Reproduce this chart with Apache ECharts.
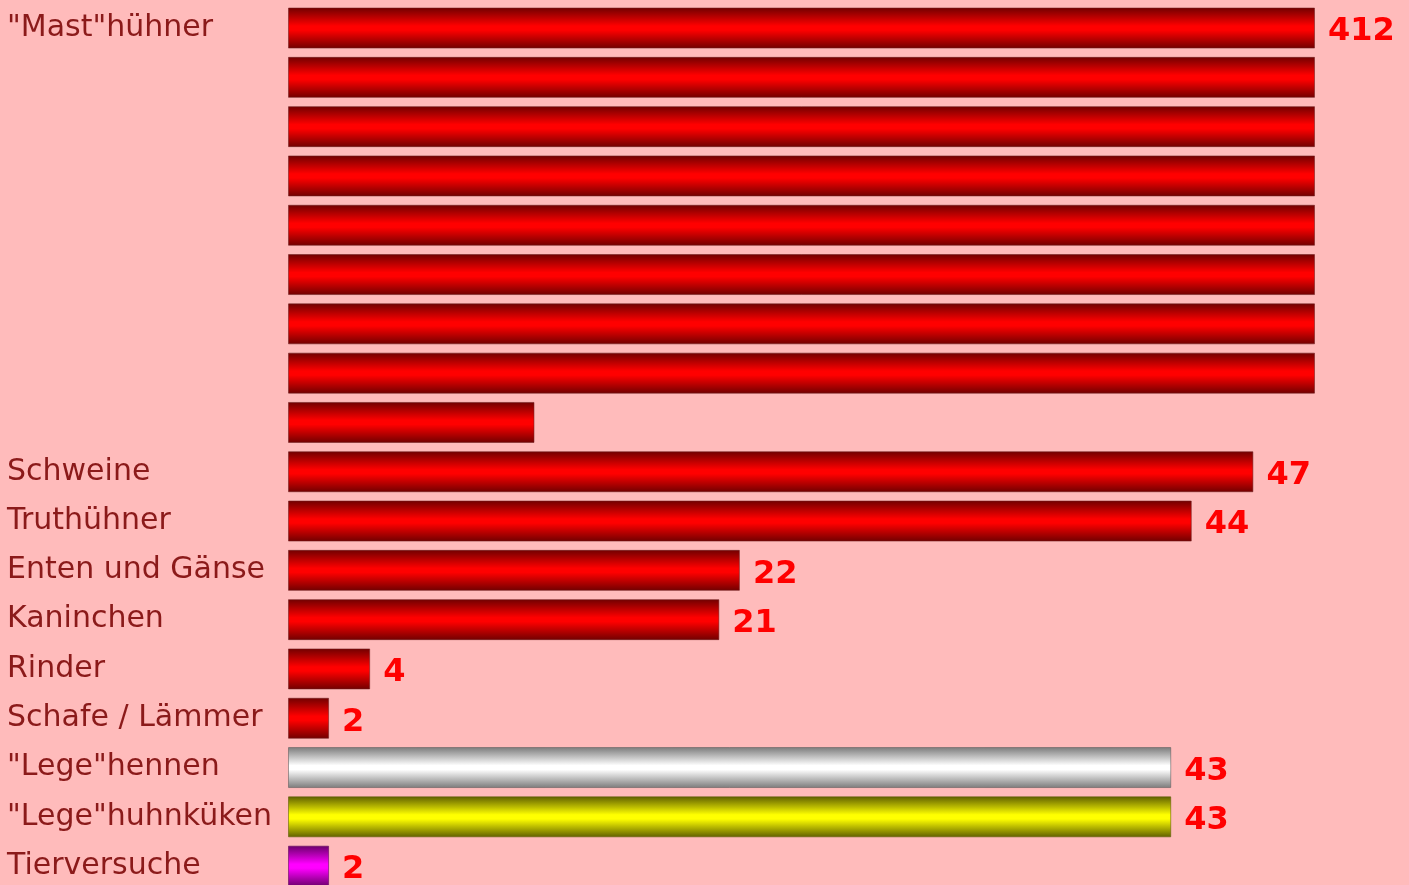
<!DOCTYPE html>
<html>
<head>
<meta charset="utf-8">
<script src="https://cdn.jsdelivr.net/npm/echarts@6/dist/echarts.min.js"></script>
<style>
html,body{margin:0;padding:0;background:#FFBBBB;overflow:hidden;}
#c{width:1409px;height:885px;}
</style>
</head>
<body>
<div id="c"></div>
<script>
// ---- data ----
const categories = ['"Mast"hühner', 'Schweine', 'Truthühner', 'Enten und Gänse', 'Kaninchen', 'Rinder', 'Schafe / Lämmer', '"Lege"hennen', '"Lege"huhnküken', 'Tierversuche'];
const values = [412, 47, 44, 22, 21, 4, 2, 43, 43, 2];
const colorKeys = ['red', 'red', 'red', 'red', 'red', 'red', 'red', 'white', 'yellow', 'magenta'];
const rowCapacity = 50; // one bar row holds 50 units; larger values wrap onto further rows

// ---- styles ----
const palettes = {
  red:     { edge: '#700000', mid: '#ff0000', border: 'rgba(110,30,30,0.55)' },
  white:   { edge: '#7a7a7a', mid: '#ffffff', border: 'rgba(90,90,90,0.55)' },
  yellow:  { edge: '#5e5e00', mid: '#ffff00', border: 'rgba(90,90,0,0.55)' },
  magenta: { edge: '#6a006a', mid: '#ff00ff', border: 'rgba(90,0,90,0.55)' }
};
function grad(key) {
  const p = palettes[key];
  return new echarts.graphic.LinearGradient(0, 0, 0, 1, [
    { offset: 0, color: p.edge },
    { offset: 0.45, color: p.mid },
    { offset: 0.55, color: p.mid },
    { offset: 1, color: p.edge }
  ]);
}

// build display rows from the data
const rows = [];
categories.forEach((cat, i) => {
  let remaining = values[i];
  let first = true;
  while (remaining > 0) {
    const chunk = Math.min(remaining, rowCapacity);
    rows.push({ name: first ? cat : '', value: chunk, total: first ? values[i] : null, key: colorKeys[i] });
    remaining -= chunk;
    first = false;
  }
});

const pitch = 49.3;
const chart = echarts.init(document.getElementById('c'), null, { renderer: 'canvas' });
chart.setOption({
  backgroundColor: '#FFBBBB',
  animation: false,
  grid: { left: 288, width: 1027, top: 3.4, height: pitch * rows.length, containLabel: false, outerBoundsMode: 'none' },
  xAxis: { type: 'value', min: 0, max: rowCapacity, show: false },
  yAxis: {
    type: 'category',
    inverse: true,
    data: rows.map((r, i) => String(i)),
    axisLine: { show: false },
    axisTick: { show: false },
    splitLine: { show: false },
    axisLabel: {
      interval: 0,
      align: 'left',
      margin: 281,
      color: '#8b1a1a',
      fontFamily: 'DejaVu Sans',
      fontSize: 30,
      formatter: (v, idx) => rows[idx].name
    }
  },
  series: [{
    type: 'bar',
    barWidth: 41,
    data: rows.map(r => ({
      value: r.value,
      itemStyle: { color: grad(r.key), borderColor: palettes[r.key].border, borderWidth: 1 },
      label: {
        show: r.total !== null,
        position: 'right',
        distance: 13,
        offset: [0, 4],
        color: '#ff0000',
        fontFamily: 'DejaVu Sans',
        fontWeight: 'bold',
        fontSize: 32,
        formatter: () => String(r.total)
      }
    }))
  }]
});
</script>
</body>
</html>
